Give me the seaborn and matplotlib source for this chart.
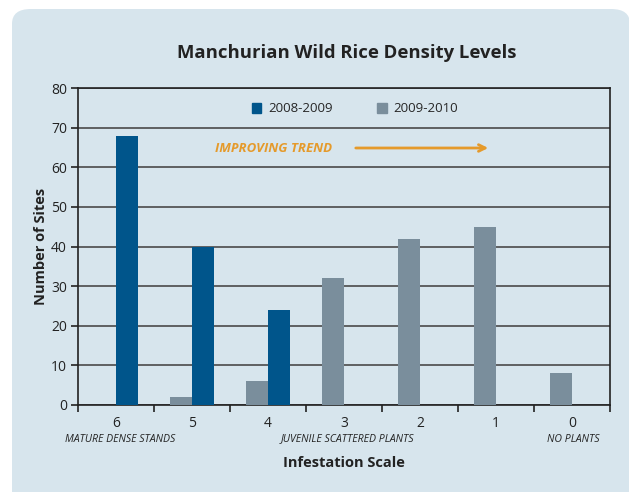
import matplotlib.pyplot as plt
import matplotlib.patches as mpatches
import pandas as pd
import seaborn as sns

scale = ['6', '5', '4', '3', '2', '1', '0']
sites_0809 = [68, 40, 24, 0, 0, 0, 0]
sites_0910 = [0, 2, 6, 32, 42, 45, 8]
seasons = ['2008-2009', '2009-2010']
colors = {'2008-2009': '#00558b', '2009-2010': '#7a8e9c'}
bg = '#d7e5ed'
orange = '#e59a2b'


def plot():
    df = pd.DataFrame({
        'scale': scale * 2,
        'sites': sites_0809 + sites_0910,
        'season': [seasons[0]] * len(scale) + [seasons[1]] * len(scale),
    })

    sns.set_style('ticks')
    plt.rcParams['font.family'] = ['Open Sans', 'DejaVu Sans']

    W, H = 629, 492
    fig = plt.figure(figsize=(W / 100, H / 100), dpi=100, facecolor='white')
    # rounded background panel (top corners visible only)
    panel = mpatches.FancyBboxPatch((12 / W, -40 / H), 618 / W, (483 + 40) / H,
                                    boxstyle='round,pad=0,rounding_size=0.03',
                                    transform=fig.transFigure, facecolor=bg,
                                    edgecolor='none', zorder=-10)
    fig.patches.append(panel)

    ax = fig.add_axes([78 / W, 1 - 405 / H, 532 / W, 317 / H])
    ax.set_facecolor(bg)
    sns.barplot(df, x='scale', y='sites', hue='season', order=scale,
                hue_order=['2009-2010', '2008-2009'], palette=colors,
                width=0.58, saturation=1, ax=ax, legend=False, zorder=3,
                linewidth=0, edgecolor='none')

    ax.set_ylim(0, 80)
    ax.set_xlim(-0.5, len(scale) - 0.5)
    ax.set_yticks(range(0, 81, 10))
    ax.yaxis.grid(True, color='#4a4a4a', linewidth=1.2, zorder=1)
    ax.set_axisbelow(True)
    for s in ax.spines.values():
        s.set_color('#222222')
        s.set_linewidth(1.2)
        s.set_visible(True)

    ax.set_xticks([i + 0.5 for i in range(-1, len(scale))], minor=True)
    ax.tick_params(axis='x', which='major', length=0, pad=8, labelsize=10, colors='#222222')
    ax.tick_params(axis='x', which='minor', length=5, width=1.2, direction='out', color='#222222')
    ax.tick_params(axis='y', length=5, width=1.2, direction='out', labelsize=10,
                   colors='#222222', pad=3)

    ax.set_xlabel('Infestation Scale', fontsize=10.5, fontweight='bold',
                  color='#222222', labelpad=18)
    ax.set_ylabel('Number of Sites', fontsize=10.5, fontweight='bold', color='#222222',
                  labelpad=2)
    fig.text(347 / W, 1 - 53 / H, 'Manchurian Wild Rice Density Levels', ha='center',
             va='center', fontsize=13.3, fontweight='bold', color='#222222')

    handles = [mpatches.Patch(color=colors[s], label=s) for s in seasons]
    ax.legend(handles=handles, ncol=2, frameon=False, loc='center',
              bbox_to_anchor=(355 / W, 1 - 109 / H), bbox_transform=fig.transFigure,
              handlelength=0.7, handleheight=0.7, handletextpad=0.5,
              columnspacing=3.4, fontsize=9.5)

    fig.text(215 / W, 1 - 148 / H, 'IMPROVING TREND', ha='left', va='center',
             fontsize=9.5, fontstyle='italic', fontweight='bold', color=orange)
    ax.annotate('', xy=(491 / W, 1 - 148 / H), xytext=(353 / W, 1 - 148 / H),
                xycoords='figure fraction', textcoords='figure fraction',
                arrowprops=dict(arrowstyle='->', color=orange, lw=2,
                                mutation_scale=12))

    small = dict(fontsize=7.6, fontstyle='italic', color='#222222', va='center')
    fig.text(65 / W, 1 - 439 / H, 'MATURE DENSE STANDS', ha='left', **small)
    fig.text(347 / W, 1 - 439 / H, 'JUVENILE SCATTERED PLANTS', ha='center', **small)
    fig.text(573 / W, 1 - 439 / H, 'NO PLANTS', ha='center', **small)

    fig.savefig('out.png', dpi=100, facecolor='white')


def main():
    plot()


if __name__ == "__main__":
    main()
